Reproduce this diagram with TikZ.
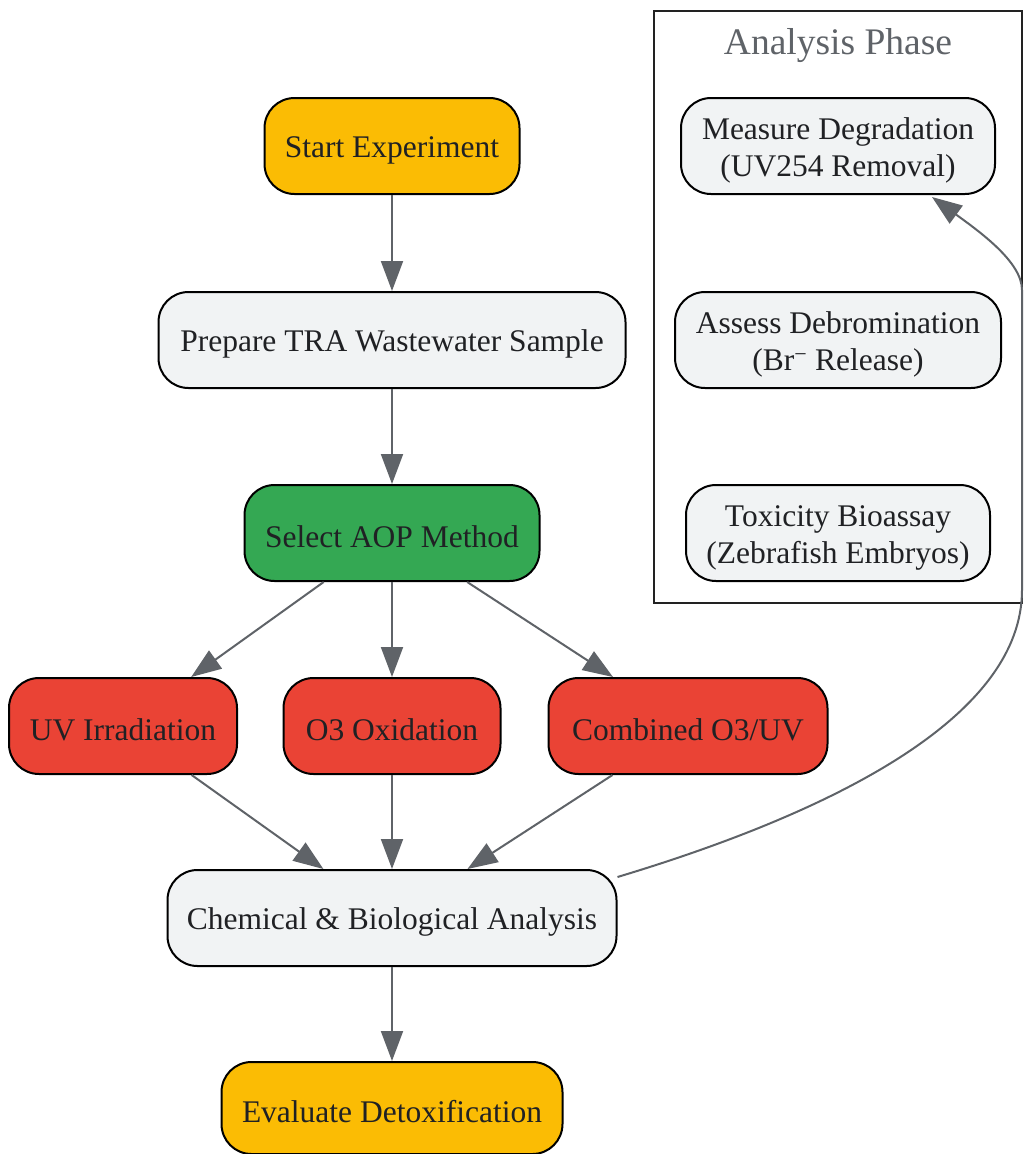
\documentclass[tikz,border=0pt]{standalone}
\usepackage{fontspec}
\setmainfont{Liberation Serif}
\usetikzlibrary{arrows.meta,calc}
\definecolor{cyellow}{HTML}{FBBC04}
\definecolor{cgreen}{HTML}{34A853}
\definecolor{cred}{HTML}{EA4335}
\definecolor{cgray}{HTML}{F1F3F4}
\definecolor{ctext}{HTML}{202124}
\definecolor{cedge}{HTML}{5F6368}
\definecolor{cframe}{HTML}{222222}
\newcommand\mystrutx{\rule{0pt}{30pt}}
\tikzset{
  box/.style={draw=black, line width=2pt, rounded corners=30pt, minimum height=96pt,
    inner sep=0pt, align=center, text=ctext, font=\fontsize{31.5}{37}\selectfont},
  conn/.style={draw=cedge, line width=2pt, -{Triangle[length=30pt,width=22pt]}},
}
\begin{document}
\begin{tikzpicture}[x=1pt,y=-1pt]
\useasboundingbox (0,0) rectangle (1024,1154);
% cluster
\draw[cframe, line width=2pt] (654,11) rectangle (1022,603);
\node[text=cedge, font=\fontsize{37.5}{42}\selectfont] (ctitle) at (838,46) {Analysis Phase};
% main nodes
\node[box, fill=cyellow, minimum width=255pt] (start) at (392,146) {\mystrutx Start Experiment};
\node[box, fill=cgray, minimum width=467pt] (prep) at (392,340) {\mystrutx Prepare TRA Wastewater Sample};
\node[box, fill=cgreen, minimum width=295pt] (sel) at (392,533) {\mystrutx Select AOP Method};
\node[box, fill=cred, minimum width=228pt] (uv) at (123,726) {\mystrutx UV Irradiation};
\node[box, fill=cred, minimum width=217pt] (o3) at (392,726) {\mystrutx O3 Oxidation};
\node[box, fill=cred, minimum width=279pt] (comb) at (688,726) {\mystrutx Combined O3/UV};
\node[box, fill=cgray, minimum width=449pt] (chem) at (392,918) {\mystrutx Chemical \& Biological Analysis};
\node[box, fill=cyellow, minimum width=341pt, minimum height=92pt] (eval) at (392,1108) {\mystrutx Evaluate Detoxification};
% cluster nodes
\node[box, fill=cgray, minimum width=314pt] (meas) at (838,146) {\mystrutx Measure Degradation\\(UV254 Removal)};
\node[box, fill=cgray, minimum width=326pt] (debr) at (838,340) {\mystrutx Assess Debromination\\(Br\textsuperscript{−} Release)};
\node[box, fill=cgray, minimum width=304pt] (tox) at (838,533) {\mystrutx Toxicity Bioassay\\(Zebrafish Embryos)};
% edges
\draw[conn] (start) -- (prep);
\draw[conn] (prep) -- (sel);
\draw[conn] (sel) -- (uv);
\draw[conn] (sel) -- (o3);
\draw[conn] (sel) -- (comb);
\draw[conn] (uv) -- (chem);
\draw[conn] (o3) -- (chem);
\draw[conn] (comb) -- (chem);
\draw[conn] (chem) -- (eval);
\draw[conn] ([yshift=41pt]chem.east) .. controls (840,810) and (1022,715) .. (1022,590)
  -- (1022,290) .. controls (1022,262) and (980,232) .. ([xshift=94pt,yshift=-2pt]meas.south);
\end{tikzpicture}
\end{document}
